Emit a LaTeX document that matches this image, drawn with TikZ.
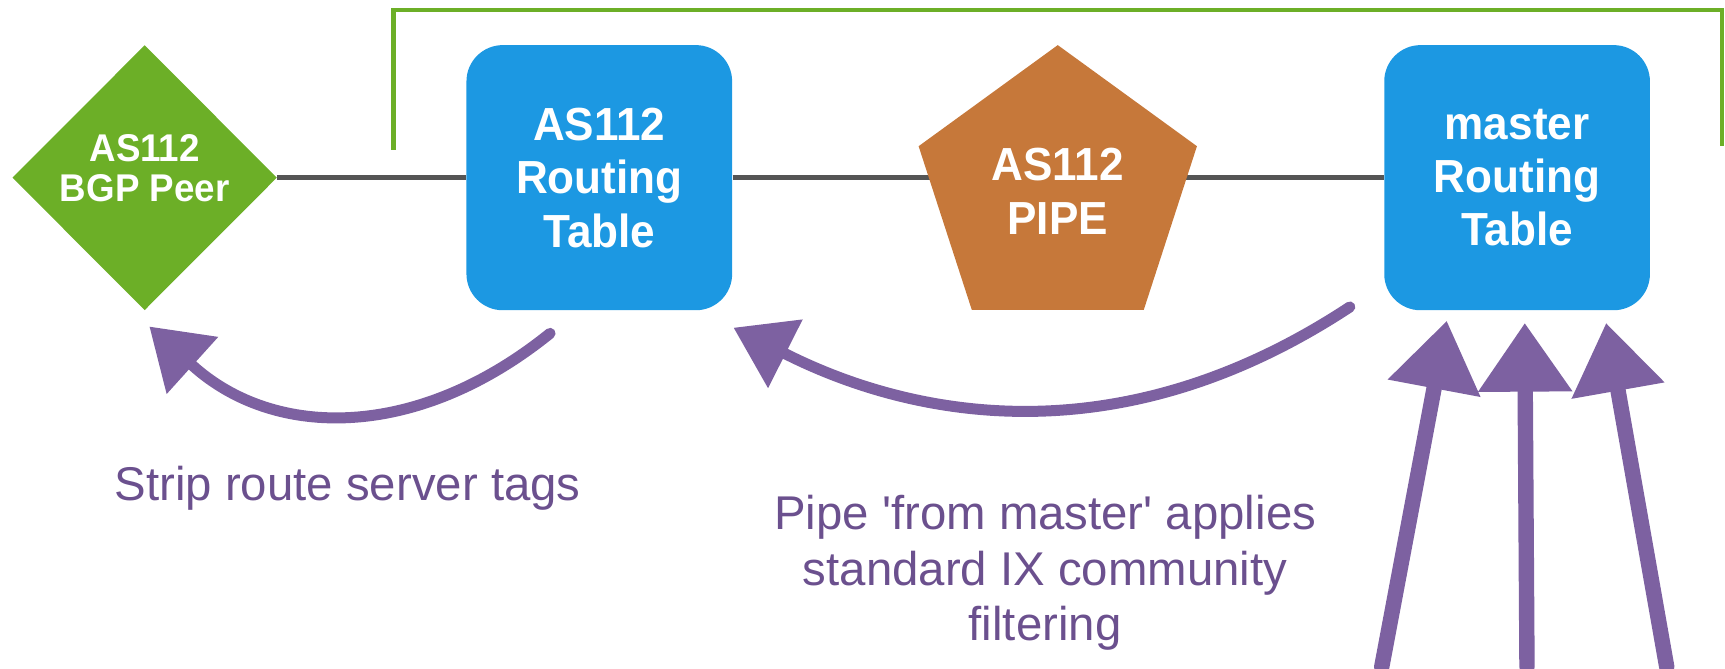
\documentclass[tikz,border=0pt]{standalone}
\usepackage{fontspec}
\setmainfont{Liberation Sans}
\newfontfamily\boxfont[FakeStretch=0.95]{Liberation Sans}
\usetikzlibrary{shapes.geometric,arrows.meta,backgrounds}
\definecolor{peergreen}{RGB}{108,175,39}
\definecolor{tabblue}{RGB}{28,152,226}
\definecolor{pipebrown}{RGB}{198,120,58}
\definecolor{chalk}{RGB}{125,97,161}
\definecolor{notepurple}{RGB}{107,80,142}
\definecolor{wire}{RGB}{85,85,85}

\begin{document}
\begin{tikzpicture}[x=.2mm,y=-.2mm,
  tab/.style={rectangle,rounded corners=6.6mm,fill=tabblue,minimum width=48.3mm,minimum height=48.2mm,inner sep=0,text=white,align=center,font=\boxfont\bfseries\fontsize{24}{27.6}\selectfont},
  peer/.style={diamond,fill=peergreen,minimum width=48.1mm,minimum height=48.2mm,inner sep=0},
  peertext/.style={inner sep=0,text=white,align=center,font=\boxfont\bfseries\fontsize{20}{20.7}\selectfont},
  pipe/.style={regular polygon,regular polygon sides=5,minimum size=53.2mm,inner sep=0,fill=pipebrown,text=white,align=center,font=\boxfont\bfseries\fontsize{24}{27.6}\selectfont},
  wireline/.style={draw=wire,line width=.85mm},
  note/.style={text=notepurple,align=center,inner sep=0,font=\fontsize{24.5}{28.7}\selectfont},
  chalkarrow/.style={draw=chalk,line width=2mm,line cap=round,-{Triangle[length=10.5mm,width=14mm,line width=0pt]}},
  chalkup/.style={draw=chalk,line width=2.8mm,line cap=round,-{Triangle[length=12.4mm,width=17.2mm,line width=0pt]}}]
\useasboundingbox(0,0)rectangle(1568,608);
\coordinate(G1)at(357.5,136);
\coordinate(G2)at(357.5,9);
\coordinate(G3)at(1565.5,9);
\coordinate(G4)at(1565.5,133);
\coordinate(S1)at(500,303);
\coordinate(S2)at(136,297);
\coordinate(P1)at(1227,279);
\coordinate(P2)at(667,298);
\coordinate(U1)at(1256,606);
\coordinate(U2)at(1315,292);
\coordinate(U3)at(1388,606);
\coordinate(U4)at(1386,294);
\coordinate(U5)at(1515,606);
\coordinate(U6)at(1460,294);
\node(Peer)[peer]at(131.5,161.5){};
\node(PeerText)[peertext]at(131.5,153){AS112\\BGP Peer};
\node(Tab1)[tab]at(544.75,161.5){AS112\\Routing\\Table};
\node(Pipe)[pipe]at(961.5,174){AS112\\PIPE};
\node(Tab2)[tab]at(1379,161.5){master\\Routing\\Table};
\begin{scope}[on background layer]
\draw[wireline](Peer)--(Tab1);
\draw[wireline](Tab1)--(Tab1-|Pipe)--(Tab2);
\end{scope}
\draw[peergreen,line width=.8mm](G1)--(G2)--(G3)--(G4);
\draw[chalkarrow](S1)..controls(380,400)and(250,400)..(S2);
\draw[chalkarrow](P1)..controls(1010,422)and(820,375)..(P2);
\draw[chalkup](U1)--(U2);
\draw[chalkup](U3)--(U4);
\draw[chalkup](U5)--(U6);
\node(StripNote)[note,anchor=base]at(316,454.5){Strip route server tags};
\node(PipeNote)[note]at(950,521){Pipe \textquotesingle from master\textquotesingle{} applies\\standard IX community\\filtering};
\end{tikzpicture}
\end{document}
